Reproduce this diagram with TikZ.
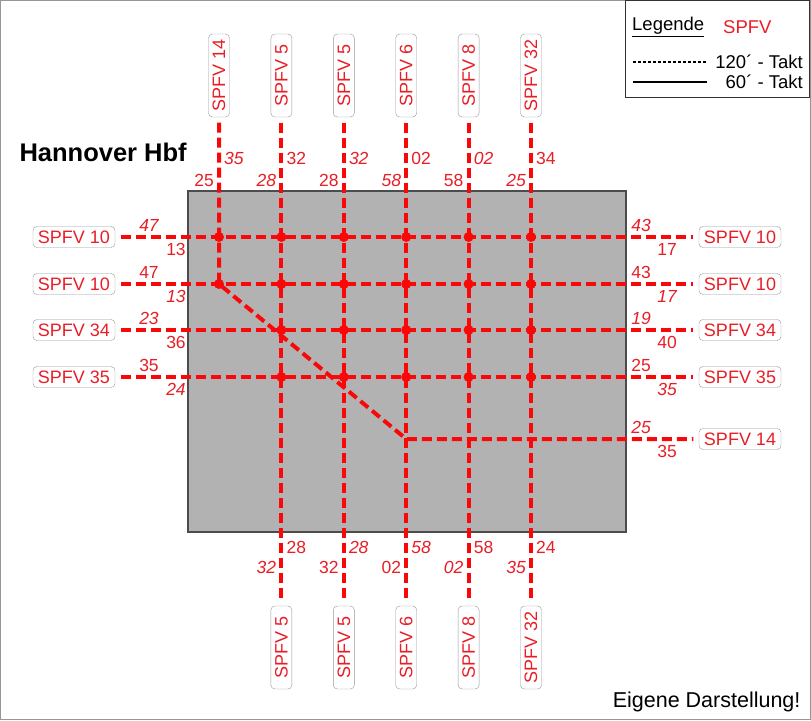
\documentclass[tikz,border=0pt]{standalone}
\usepackage{fontspec}
\setmainfont{Liberation Sans}
\definecolor{spfvred}{RGB}{232,30,38}
\definecolor{linered}{RGB}{250,8,8}
\definecolor{hbfgray}{RGB}{178,178,178}
\definecolor{boxgray}{RGB}{150,150,150}

\begin{document}
\begin{tikzpicture}[x=1pt,y=-1pt,
  spfv/.style={draw=boxgray, rounded corners=4pt, text=spfvred, inner sep=0pt,
    font=\fontsize{18}{18}\selectfont},
  vbox/.style={spfv, rotate=90, minimum width=83pt, minimum height=21pt},
  hbox/.style={spfv, minimum width=82pt, minimum height=21pt},
  takt/.style={draw=linered, line width=4pt, dash pattern=on 10pt off 5pt,
    shorten <=5.5pt, shorten >=5.5pt},
  zeit/.style={text=spfvred, inner sep=0pt, font=\fontsize{17.5}{17.5}\selectfont},
  knoten/.style={circle, fill=linered, inner sep=0pt, minimum size=10pt}]
\useasboundingbox (0,0) rectangle (811,720);
\draw[boxgray, line width=1pt] (0.5,0.5) rectangle (810.5,719.5);

% Bahnhof
\draw[fill=hbfgray, draw=black!70, line width=1.5pt] (188,191) rectangle (626,532);
\node[anchor=west, font=\fontsize{25.5}{25.5}\selectfont\bfseries] (titel) at (16,152) {Hannover Hbf};

% Linien
\foreach \n/\x/\t in {1/219/14, 2/281.4/5, 3/343.8/5, 4/406.2/6, 5/468.6/8, 6/531/32}
  \node[vbox] (t\n) at (\x,75.5) {SPFV \t};
\foreach \n/\x/\t in {2/281.4/5, 3/343.8/5, 4/406.2/6, 5/468.6/8, 6/531/32}
  \node[vbox] (b\n) at (\x,647.5) {SPFV \t};
\foreach \n/\y/\t in {1/237/10, 2/284/10, 3/330/34, 4/377/35}
  \node[hbox] (l\n) at (74,\y) {SPFV \t};
\foreach \n/\y/\t in {1/237/10, 2/284/10, 3/330/34, 4/377/35, 5/439/14}
  \node[hbox] (r\n) at (740,\y) {SPFV \t};

\foreach \n in {2,...,6}
  \draw[takt] (t\n) -- (b\n);
\foreach \n in {1,...,4}
  \draw[takt] (l\n) -- (r\n);
\coordinate (k1) at (t1 |- l2);
\coordinate (k4) at (t4 |- r5);
\draw[takt] (t1) -- (k1) -- (k4) -- (r5);

% Knoten
\foreach \c in {2,...,6}
  \foreach \r in {1,...,4}
    \node[knoten] (d\c\r) at (t\c |- l\r) {};
\node[knoten] (d11) at (t1 |- l1) {};
\node[knoten] (d12) at (k1) {};

% Zeiten
\foreach \n/\x/\o/\u in {1/219/{\itshape 35}/25, 2/281.4/32/{\itshape 28},
    3/343.8/{\itshape 32}/28, 4/406.2/02/{\itshape 58},
    5/468.6/{\itshape 02}/58, 6/531/34/{\itshape 25}}{
  \node[zeit, anchor=west] (to\n) at (\x+5,158) {\o};
  \node[zeit, anchor=east] (tu\n) at (\x-5,180) {\u};
}
\foreach \n/\x/\o/\u in {2/281.4/28/{\itshape 32}, 3/343.8/{\itshape 28}/32,
    4/406.2/{\itshape 58}/02, 5/468.6/58/{\itshape 02}, 6/531/24/{\itshape 35}}{
  \node[zeit, anchor=west] (bo\n) at (\x+5,547) {\o};
  \node[zeit, anchor=east] (bu\n) at (\x-5,567) {\u};
}
\foreach \n/\y/\o/\u in {1/237/{\itshape 47}/13, 2/284/47/{\itshape 13},
    3/330/{\itshape 23}/36, 4/377/35/{\itshape 24}}{
  \node[zeit] (lo\n) at (149,\y-12) {\o};
  \node[zeit] (lu\n) at (176,\y+12) {\u};
}
\foreach \n/\y/\o/\u in {1/237/{\itshape 43}/17, 2/284/43/{\itshape 17},
    3/330/{\itshape 19}/40, 4/377/25/{\itshape 35}, 5/439/{\itshape 25}/35}{
  \node[zeit] (ro\n) at (641,\y-12) {\o};
  \node[zeit] (ru\n) at (667,\y+12) {\u};
}

% Legende
\draw[draw=black!80, line width=1pt] (625,0.5) rectangle (809,97);
\begin{scope}[every node/.style={inner sep=0pt, font=\fontsize{18.5}{18.5}\selectfont}]
\node[anchor=west] (leg) at (632,27) {\underline{Legende}};
\node[anchor=west, text=spfvred] (legspfv) at (723,27) {SPFV};
\coordinate (s1) at (633,62);
\coordinate (s2) at (707,62);
\draw[line width=2pt, dash pattern=on 3pt off 2pt] (s1) -- (s2);
\node[anchor=east] (leg120) at (803,62) {120´ - Takt};
\coordinate (s3) at (633,82);
\coordinate (s4) at (707,82);
\draw[line width=2.5pt] (s3) -- (s4);
\node[anchor=east] (leg60) at (803,82) {60´ - Takt};
\end{scope}

\node[anchor=east, font=\fontsize{21.5}{21.5}\selectfont] (quelle) at (804,702) {Eigene Darstellung!};
\end{tikzpicture}
\end{document}
